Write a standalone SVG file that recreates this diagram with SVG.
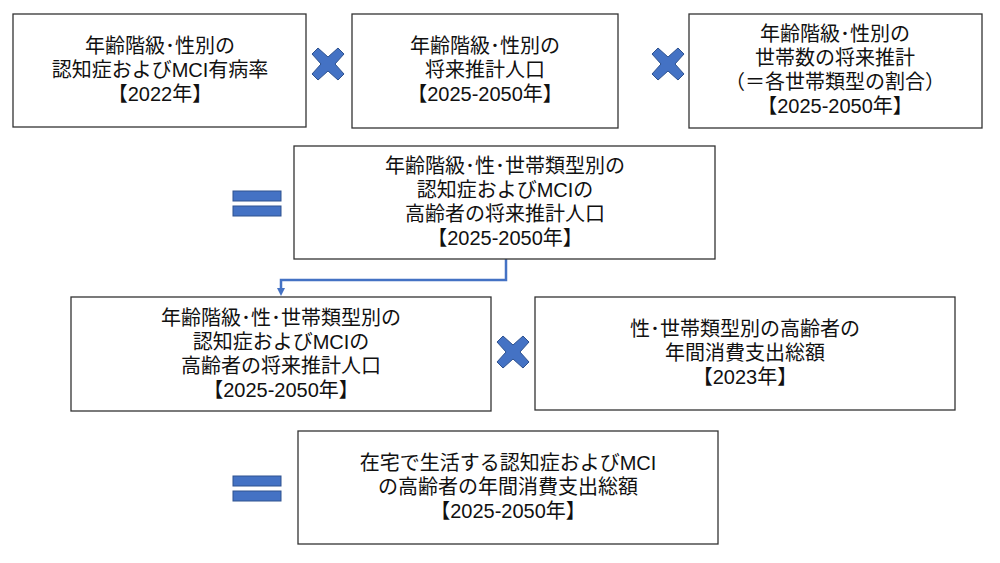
<svg xmlns="http://www.w3.org/2000/svg" width="1000" height="563" viewBox="0 0 1000 563">
<style>
.b{fill:#fff;stroke:#333;stroke-width:1.3}
.t{font-family:"Liberation Sans","Noto Sans CJK JP",sans-serif;font-size:20px;fill:#111;text-anchor:middle}
.s{fill:#4472c4;stroke:#2f528f;stroke-width:1}
</style>
<defs>
<marker id="a" markerWidth="8" markerHeight="8" refX="4" refY="4" orient="auto" markerUnits="userSpaceOnUse"><path d="M0,0L8,4L0,8z" fill="#4472c4"/></marker>
<path id="x" d="M-10,-16L0,-7L10,-16L16,-10L7,0L16,10L10,16L0,7L-10,16L-16,10L-7,0L-16,-10z"/>
<g id="eq"><rect x="-24" y="-14" width="48" height="10"/><rect x="-24" y="1" width="48" height="10"/></g>
</defs>
<rect width="1000" height="563" fill="#fff"/>
<g id="connectors"><path d="M506,259V280H281V292" fill="none" stroke="#4472c4" stroke-width="2.5" marker-end="url(#a)"/></g>
<g id="n1"><rect class="b" x="13" y="14" width="293" height="113"/><text class="t" x="160" y="53">年齢階級･性別の</text><text class="t" x="160" y="77">認知症およびMCI有病率</text><text class="t" x="160" y="101">【2022年】</text></g>
<g id="n2"><rect class="b" x="352" y="14" width="266" height="114"/><text class="t" x="485" y="53">年齢階級･性別の</text><text class="t" x="485" y="77">将来推計人口</text><text class="t" x="485" y="101">【2025-2050年】</text></g>
<g id="n3"><rect class="b" x="689" y="14" width="293" height="114"/><text class="t" x="835" y="41">年齢階級･性別の</text><text class="t" x="835" y="65">世帯数の将来推計</text><text class="t" x="835" y="89">（＝各世帯類型の割合）</text><text class="t" x="835" y="113">【2025-2050年】</text></g>
<g id="n4"><rect class="b" x="294" y="146" width="421" height="113"/><text class="t" x="505" y="173">年齢階級･性･世帯類型別の</text><text class="t" x="505" y="197">認知症およびMCIの</text><text class="t" x="505" y="221">高齢者の将来推計人口</text><text class="t" x="505" y="245">【2025-2050年】</text></g>
<g id="n5"><rect class="b" x="71" y="297" width="420" height="114"/><text class="t" x="281" y="325">年齢階級･性･世帯類型別の</text><text class="t" x="281" y="349">認知症およびMCIの</text><text class="t" x="281" y="373">高齢者の将来推計人口</text><text class="t" x="281" y="397">【2025-2050年】</text></g>
<g id="n6"><rect class="b" x="535" y="297" width="420" height="113"/><text class="t" x="745" y="336">性･世帯類型別の高齢者の</text><text class="t" x="745" y="360">年間消費支出総額</text><text class="t" x="745" y="384">【2023年】</text></g>
<g id="n7"><rect class="b" x="298" y="431" width="420" height="113"/><text class="t" x="508" y="470">在宅で生活する認知症およびMCI</text><text class="t" x="508" y="494">の高齢者の年間消費支出総額</text><text class="t" x="508" y="518">【2025-2050年】</text></g>
<g id="ops">
<use href="#x" class="s" x="328" y="64"/>
<use href="#x" class="s" x="668" y="64"/>
<use href="#x" class="s" x="513" y="352"/>
<use href="#eq" class="s" x="257" y="205"/>
<use href="#eq" class="s" x="257" y="490"/>
</g>
</svg>
